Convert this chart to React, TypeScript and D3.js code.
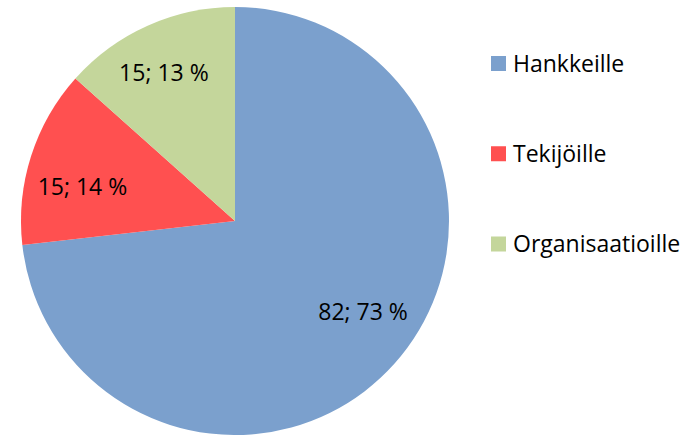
import React from "react";
import * as d3 from "d3";

const categories = ["Hankkeille", "Tekijöille", "Organisaatioille"];
const values = [82, 15, 15];
const percentLabels = ["73 %", "14 %", "13 %"];
const colors = ["#7ba0cd", "#ff5050", "#c4d69b"];

const W = 698;
const H = 435;
const CX = 235;
const CY = 221;
const R = 214;
const LABEL_R = 157;
const labelNudge = [
  [11, -14],
  [-3, 14],
  [-7, -5],
];
const FONT = "'Open Sans', sans-serif";
const FS = 23;

export default function App() {
  const pie = d3
    .pie<number>()
    .sort(null)
    .value((d) => d);
  const arcs = pie(values);
  const arc = d3.arc<d3.PieArcDatum<number>>().innerRadius(0).outerRadius(R);
  const labelArc = d3
    .arc<d3.PieArcDatum<number>>()
    .innerRadius(LABEL_R)
    .outerRadius(LABEL_R);

  const legendY = d3.scalePoint<string>().domain(categories).range([63.5, 244]);

  return (
    <svg
      width={W}
      height={H}
      style={{ position: "absolute", left: 0, top: 0, background: "#fff" }}
      fontFamily={FONT}
    >
      <g transform={`translate(${CX},${CY})`}>
        {arcs.map((a, i) => (
          <path key={i} d={arc(a) || ""} fill={colors[i]} />
        ))}
        {arcs.map((a, i) => {
          const [x, y] = labelArc.centroid(a);
          return (
            <text
              key={"l" + i}
              x={x + labelNudge[i][0]}
              y={y + labelNudge[i][1]}
              dy="0.35em"
              textAnchor="middle"
              fontSize={FS}
              fill="#000"
            >
              {`${values[i]}; ${percentLabels[i]}`}
            </text>
          );
        })}
      </g>
      <g>
        {categories.map((c, i) => {
          const y = legendY(c) as number;
          return (
            <g key={c}>
              <rect x={491} y={y - 7.5} width={15} height={15} fill={colors[i]} />
              <text x={513} y={y} dy="0.35em" fontSize={FS} fill="#000">
                {c}
              </text>
            </g>
          );
        })}
      </g>
    </svg>
  );
}
